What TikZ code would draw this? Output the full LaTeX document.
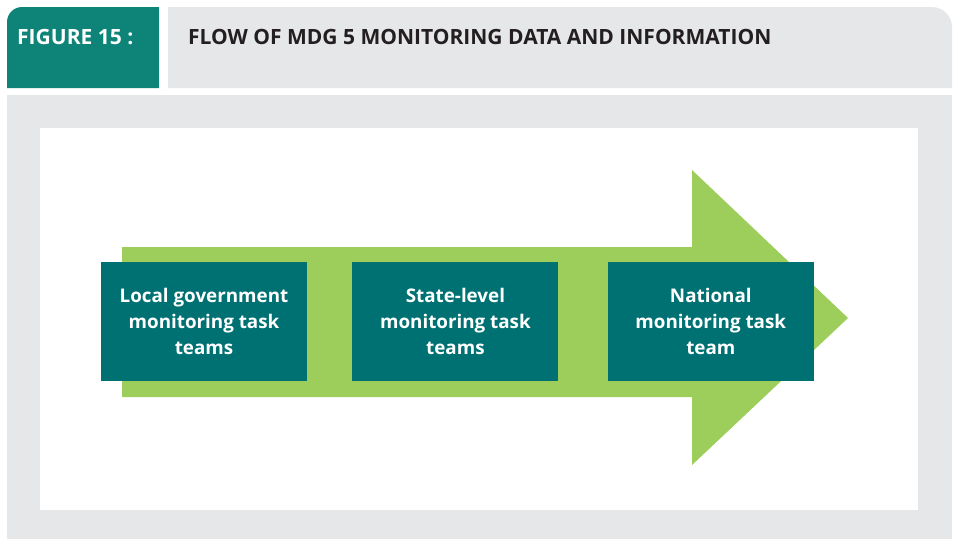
\documentclass[tikz,border=0pt]{standalone}
\usepackage{fontspec}
\setmainfont{Open Sans}
\usetikzlibrary{positioning}
\definecolor{tabteal}{HTML}{0E8478}
\definecolor{boxteal}{HTML}{007173}
\definecolor{arrowgreen}{HTML}{9DCD5A}
\definecolor{panelgray}{HTML}{E6E7E8}
\definecolor{titletext}{HTML}{231F20}
\tikzstyle{taskteam} = [rectangle, minimum width=206pt, minimum height=119pt, inner sep=0pt, align=center, fill=boxteal, text=white, font=\bfseries\fontsize{18.8}{26}\selectfont]
\tikzstyle{heading} = [anchor=base west, inner sep=0pt, font=\bfseries\fontsize{21}{24}\selectfont]

\begin{document}
\begin{tikzpicture}[x=1pt, y=-1pt, node distance=45pt]
    \useasboundingbox (0,0) rectangle (953,539);
    % header strip
    \fill [tabteal] (7,88) [rounded corners=15pt] -- (7,7) [sharp corners] -- (159,7) -- (159,88) -- cycle;
    \fill [panelgray] (168,88) -- (168,7) [rounded corners=20pt] -- (952,7) [sharp corners] -- (952,88) -- cycle;
    \node (FigNum) [heading, text=white] at (17,44.5) {FIGURE 15 :};
    \node (FigTitle) [heading, text=titletext] at (188,44.5) {FLOW OF MDG 5 MONITORING DATA AND INFORMATION};
    % panel
    \fill [panelgray] (7,95) rectangle (952,539);
    \fill [white] (40,128) rectangle (918,510);
    % big arrow
    \fill [arrowgreen] (122,247) -- (692,247) -- (692,170) -- (848,318) -- (692,465) -- (692,397) -- (122,397) -- cycle;
    % task teams
    \node (Local) [taskteam] at (204,321.5) {Local government\\monitoring task\\teams};
    \node (State) [taskteam, right = of Local] {State-level\\monitoring task\\teams};
    \node (National) [taskteam, right = 49pt of State] {National\\monitoring task\\team};
\end{tikzpicture}
\end{document}
